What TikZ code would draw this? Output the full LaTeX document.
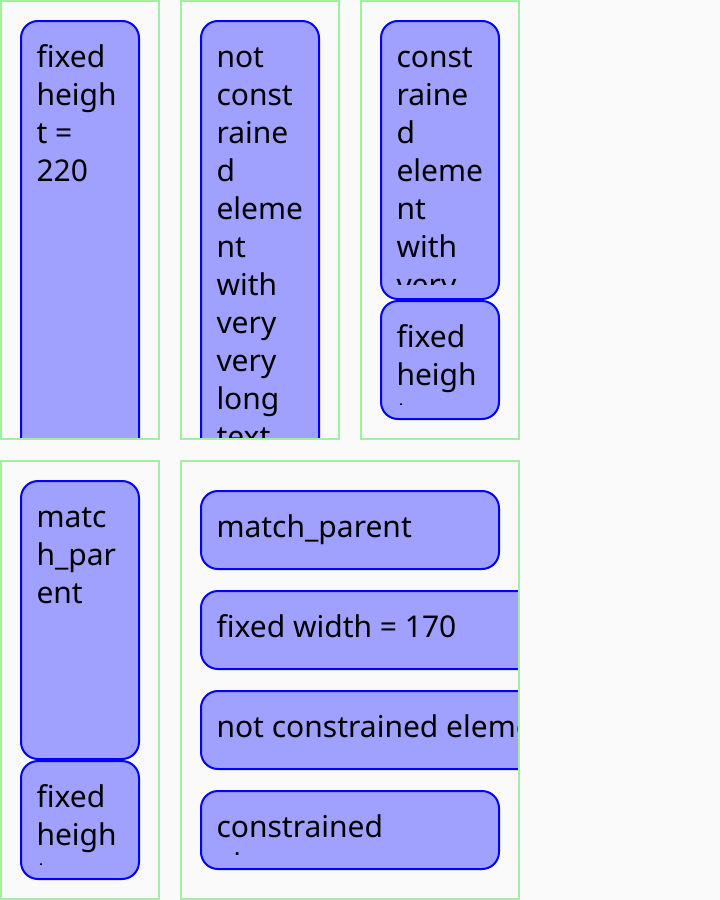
\documentclass[tikz,border=0pt]{standalone}
\usepackage{fontspec}
\setmainfont{Noto Sans}
\definecolor{pagebg}{HTML}{FAFAFA}
\definecolor{frameline}{HTML}{A0F0A0}
\definecolor{cardfill}{HTML}{A0A0FF}
\definecolor{cardline}{HTML}{0000FF}
\tikzset{
  frame/.style={draw=frameline, line width=2pt},
  card/.style={fill=cardfill, draw=cardline, line width=2pt, rounded corners=17pt},
  lbl/.style={anchor=base west, inner sep=0pt, outer sep=0pt, font=\fontsize{30}{38}\selectfont},
}
% \cardlines{name}{left}{top}{bottom}{lines}: text lines of one card, cut by its padding
\newcommand\cardlines[5]{%
  \begin{scope}
    \clip (#2-2,#3+16) rectangle (#2+600,#4-16);
    \foreach \ln [count=\i] in {#5}
      \node[lbl] (#1-\i) at (#2+16.5,{#3+47.5+38*(\i-1)}) {\ln};
  \end{scope}}
\begin{document}
\begin{tikzpicture}[x=1pt,y=-1pt]
\useasboundingbox[fill=pagebg] (0,0) rectangle (720,900);

% column 1: fixed height
\begin{scope}
  \clip (2,2) rectangle (158,438);
  \draw[card] (21,21) rectangle (139,459);
  \cardlines{fh}{20}{20}{460}{fixed,heigh,t =,220}
\end{scope}
\draw[frame] (1,1) rectangle (159,439);

% column 2: unconstrained element
\begin{scope}
  \clip (182,2) rectangle (338,438);
  \draw[card] (201,21) rectangle (319,599);
  \cardlines{nc}{200}{20}{600}{not,const,raine,d,eleme,nt,with,very,very,long,text}
\end{scope}
\draw[frame] (181,1) rectangle (339,439);

% column 3: constrained element above a fixed one
\begin{scope}
  \clip (362,2) rectangle (518,438);
  \draw[card] (381,21) rectangle (499,299);
  \cardlines{ce}{380}{20}{300}{const,raine,d,eleme,nt,with,very}
  \draw[card] (381,301) rectangle (499,419);
  \cardlines{cf}{380}{300}{420}{fixed,heigh,t}
\end{scope}
\draw[frame] (361,1) rectangle (519,439);

% lower left: match_parent above a fixed one
\begin{scope}
  \clip (2,462) rectangle (158,898);
  \draw[card] (21,481) rectangle (139,759);
  \cardlines{mp}{20}{480}{760}{matc,h\_par,ent}
  \draw[card] (21,761) rectangle (139,879);
  \cardlines{mf}{20}{760}{880}{fixed,heigh,t}
\end{scope}
\draw[frame] (1,461) rectangle (159,899);

% lower right: horizontal cases
\begin{scope}
  \clip (182,462) rectangle (518,898);
  \draw[card] (201,491) rectangle (499,569);
  \cardlines{hm}{200}{490}{570}{match\_parent}
  \draw[card] (201,591) rectangle (539,669);
  \cardlines{hf}{200}{590}{670}{fixed width = 170}
  \draw[card] (201,691) rectangle (839,769);
  \cardlines{hn}{200}{690}{770}{not constrained element with very long text}
  \draw[card] (201,791) rectangle (499,869);
  \cardlines{hc}{200}{790}{870}{constrained,element}
\end{scope}
\draw[frame] (181,461) rectangle (519,899);
\end{tikzpicture}
\end{document}
